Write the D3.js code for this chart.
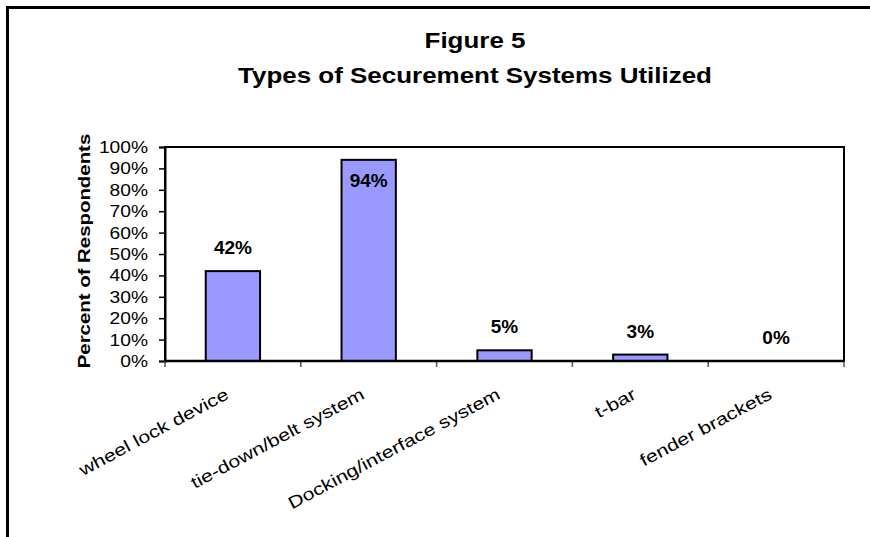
<!DOCTYPE html>
<html><head><meta charset="utf-8">
<script src="https://cdn.jsdelivr.net/npm/d3@7"></script>
<style>html,body{margin:0;padding:0;background:#fff;overflow:hidden;} svg{display:block;font-family:Arial,"Liberation Sans",sans-serif;overflow:hidden;}</style>
</head><body>
<svg id="c" width="870" height="537" viewBox="0 0 870 537"></svg>
<script>
const categories = ["wheel lock device","tie-down/belt system","Docking/interface system","t-bar","fender brackets"];
const values = [42, 94, 5, 3, 0];
const yTicks = [0,10,20,30,40,50,60,70,80,90,100];
const titleLines = ["Figure 5","Types of Securement Systems Utilized"];
const yTitle = "Percent of Respondents";

const svg = d3.select("#c");
const plot = {left:165, right:844, top:147, bottom:361};

svg.append("rect").attr("x",0).attr("y",0).attr("width",870).attr("height",537).attr("fill","#fff");
// outer frame (only top and left edges visible)
svg.append("path").attr("d","M7.5,537 L7.5,7.5 L880,7.5").attr("fill","none").attr("stroke","#000").attr("stroke-width",3);

const x = d3.scaleBand().domain(categories).range([plot.left, plot.right]).paddingInner(0).paddingOuter(0);
const y = d3.scaleLinear().domain([0,100]).range([plot.bottom, plot.top]);

function stext(parent, x0, y0, txt, opts){
  const g = parent.append("g").attr("transform",`translate(${x0},${y0}) rotate(${opts.rot||0}) scale(${opts.sx||1},1)`);
  g.append("text").attr("x",0).attr("y",0).attr("text-anchor",opts.anchor||"middle")
   .attr("font-size",opts.size).attr("font-weight",opts.bold?"bold":"normal").attr("fill","#000").text(txt);
  return g;
}

// title
stext(svg, 475, 48, titleLines[0], {size:22, bold:true, sx:1.18});
stext(svg, 475, 83, titleLines[1], {size:22, bold:true, sx:1.18});

// plot area
svg.append("rect").attr("x",plot.left).attr("y",plot.top).attr("width",plot.right-plot.left).attr("height",plot.bottom-plot.top)
  .attr("fill","#fff").attr("stroke","#000").attr("stroke-width",2);

// bars
const bw = x.bandwidth()*0.4;
svg.append("g").selectAll("rect").data(values).join("rect")
  .attr("x",(d,i)=>x(categories[i]) + (x.bandwidth()-bw)/2)
  .attr("y",d=>y(d)).attr("width",bw).attr("height",d=>plot.bottom-y(d))
  .attr("fill","#9999FF").attr("stroke","#000").attr("stroke-width",2)
  .style("display",d=>d>0?null:"none");

// y axis
const yAxis = d3.axisLeft(y).tickValues(yTicks).tickSize(6).tickFormat(d=>d+"%");
const ya = svg.append("g").attr("transform",`translate(${plot.left},0)`).call(yAxis);
ya.select(".domain").attr("stroke","#000").attr("stroke-width",2);
ya.selectAll(".tick line").attr("stroke","#000").attr("stroke-width",1.5);
ya.selectAll(".tick text").remove();
yTicks.forEach(t=>{
  stext(svg, 148, y(t)+6, t+"%", {size:16, sx:1.2, anchor:"end"});
});

// x axis ticks at band boundaries
const bounds = categories.map(c=>x(c)).concat([plot.right]);
svg.append("g").selectAll("line").data(bounds).join("line")
  .attr("x1",d=>d).attr("x2",d=>d).attr("y1",plot.bottom).attr("y2",plot.bottom+6)
  .attr("stroke","#555").attr("stroke-width",1.5);
svg.append("line").attr("x1",plot.left).attr("x2",plot.right).attr("y1",plot.bottom).attr("y2",plot.bottom)
  .attr("stroke","#000").attr("stroke-width",2.5);

// x labels
categories.forEach(c=>{
  const cx = x(c)+x.bandwidth()/2;
  stext(svg, cx-3, 398, c, {size:17, sx:1.25, rot:-28, anchor:"end"});
});

// data labels
values.forEach((v,i)=>{
  const cx = x(categories[i])+x.bandwidth()/2;
  let by = y(v)-17;
  if (by-14 < plot.top) by = y(v)+27;
  stext(svg, cx, by, v+"%", {size:19, bold:true, sx:1.0});
});

// y title
stext(svg, 90, 251, yTitle, {size:17, bold:true, sx:1.2, rot:-90});
</script>
</body></html>
